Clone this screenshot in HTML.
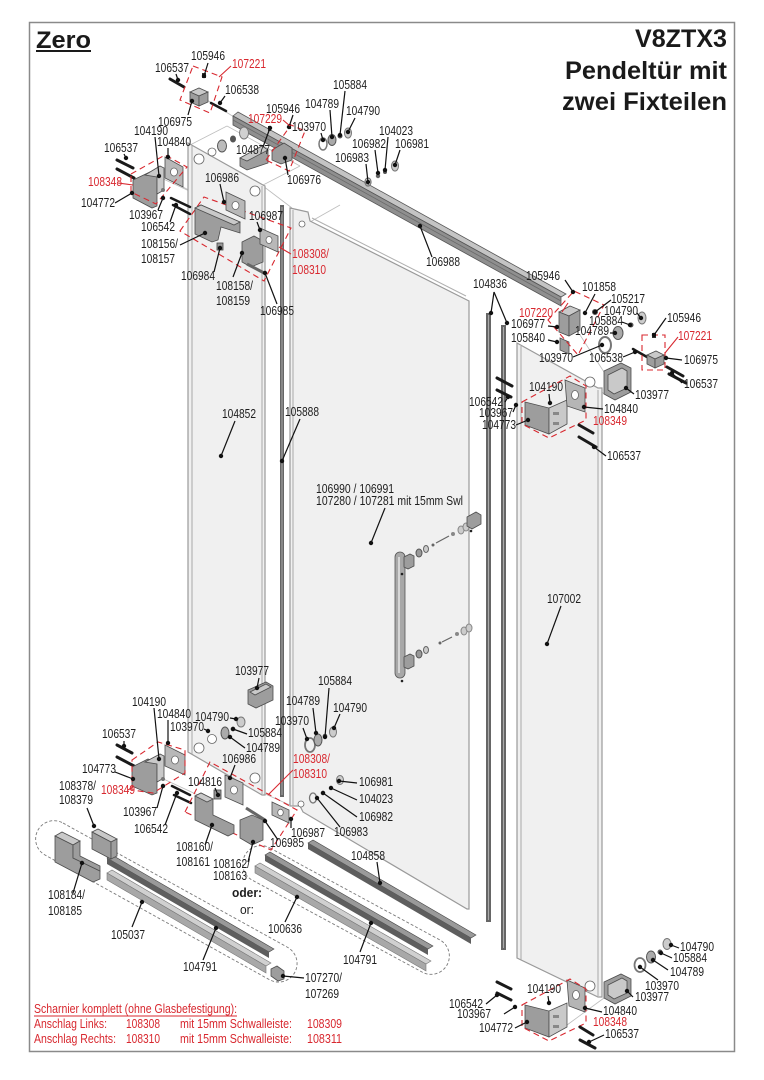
<!DOCTYPE html>
<html><head><meta charset="utf-8">
<style>
html,body{margin:0;padding:0;background:#fff;}
svg{display:block}
.t{font-family:"Liberation Sans",Arial,sans-serif;font-size:12.5px;fill:#1e1e1e}
.r{fill:#d8282f}
.L{stroke:#111;stroke-width:1.2;fill:none}
.R{stroke:#d8282f;stroke-width:1.1;fill:none}
.D{stroke:#d8282f;stroke-width:1.1;fill:none;stroke-dasharray:6 4}
.p{fill:#9d9d9d;stroke:#4d4d4d;stroke-width:.8}
.q{fill:#c9c9c9;stroke:#4d4d4d;stroke-width:.8}
.g{fill:#f0f0f0;stroke:#9a9a9a;stroke-width:1.2}
.s{stroke:#1a1a1a;stroke-width:3;stroke-linecap:round}
.c{stroke:#bdbdbd;stroke-width:.8;fill:none}
.k{stroke:#7a7a7a;stroke-width:.9;fill:none;stroke-dasharray:3 2}
.h{fill:#fff;stroke:#666;stroke-width:.8}
</style></head><body>
<svg width="764" height="1080" viewBox="0 0 764 1080" xmlns="http://www.w3.org/2000/svg">
<rect x="0" y="0" width="764" height="1080" fill="#fff"/>
<rect x="29.5" y="22.5" width="705" height="1029" fill="none" stroke="#8a8a8a" stroke-width="1.5"/>

<!-- construction lines -->
<g class="c">
<line x1="207" y1="100" x2="234" y2="117"/><line x1="190" y1="145" x2="227" y2="126"/><line x1="227" y1="126" x2="300" y2="166"/>
<line x1="263" y1="185" x2="300" y2="166"/><line x1="157" y1="176" x2="200" y2="196"/><line x1="183" y1="187" x2="230" y2="212"/>
<line x1="263" y1="186" x2="292" y2="208"/><line x1="157" y1="776" x2="200" y2="796"/><line x1="263" y1="793" x2="292" y2="806"/>
<line x1="580" y1="335" x2="604" y2="372"/><line x1="598" y1="388" x2="604" y2="394"/><line x1="567" y1="1025" x2="604" y2="998"/>
<line x1="310" y1="222" x2="340" y2="205"/>
</g>

<!-- panels -->
<polygon class="g" points="188,143 263,185 265,186 265,795 262,795 188,752"/>
<line x1="192" y1="146" x2="192" y2="754" stroke="#a8a8a8"/>
<line x1="262" y1="186" x2="262" y2="794" stroke="#a8a8a8"/>
<polygon class="g" points="290,208 308,212 310,221 467,300 469,301 469,909 467,909 303,812 300,806 290,806"/>
<line x1="293" y1="210" x2="293" y2="806" stroke="#a8a8a8"/>
<line x1="312" y1="218" x2="466" y2="296" stroke="#b0b0b0"/>
<circle cx="302" cy="224" r="3" class="h"/>
<circle cx="301" cy="804" r="3" class="h"/>
<polygon class="g" points="517,343 598,388 602,388 602,997 598,997 517,958"/>
<line x1="521" y1="346" x2="521" y2="960" stroke="#a8a8a8"/>
<line x1="598" y1="390" x2="598" y2="996" stroke="#a8a8a8"/>

<!-- holes on left panel -->
<circle cx="199" cy="159" r="5" class="h"/><circle cx="212" cy="152" r="4" class="h"/><circle cx="255" cy="191" r="5" class="h"/>
<circle cx="199" cy="748" r="5" class="h"/><circle cx="212" cy="739" r="4.5" class="h"/><circle cx="255" cy="778" r="5" class="h"/>
<circle cx="590" cy="382" r="5" class="h"/><circle cx="590" cy="986" r="5" class="h"/>

<!-- vertical bars -->
<rect x="280" y="205" width="4" height="592" fill="#666"/><line x1="282" y1="207" x2="282" y2="795" stroke="#aaa"/>
<rect x="486" y="313" width="5" height="609" fill="#666"/><line x1="488.5" y1="315" x2="488.5" y2="920" stroke="#aaa"/>
<rect x="501" y="325" width="5" height="625" fill="#666"/><line x1="503.5" y1="327" x2="503.5" y2="948" stroke="#aaa"/>

<!-- top rail -->
<polygon points="233,116 238,112 566,294 561,297" fill="#c4c4c4" stroke="#555" stroke-width=".8"/>
<polygon points="233,116 561,297 561,306 233,125" fill="#8f8f8f" stroke="#555" stroke-width=".8"/>
<line x1="233" y1="120" x2="561" y2="301" stroke="#6a6a6a" stroke-width=".8"/>

<!-- bottom rails -->
<polygon points="308,843 313,840 476,935 471,938" fill="#9a9a9a" stroke="#444" stroke-width=".6"/>
<polygon points="308,843 471,938 471,944 308,849" fill="#5e5e5e"/>
<polygon points="265,855 270,852 433,946 428,949" fill="#999" stroke="#444" stroke-width=".6"/>
<polygon points="265,855 428,949 428,955 265,861" fill="#5e5e5e"/>
<polygon points="255,866 260,863 431,961 426,964" fill="#d0d0d0" stroke="#777" stroke-width=".6"/>
<polygon points="255,866 426,964 426,971 255,873" fill="#a8a8a8" stroke="#777" stroke-width=".6"/>
<polygon points="107,858 112,855 274,949 269,952" fill="#999" stroke="#444" stroke-width=".6"/>
<polygon points="107,858 269,952 269,958 107,864" fill="#5e5e5e"/>
<polygon points="107,873 112,870 271,963 266,966" fill="#d0d0d0" stroke="#777" stroke-width=".6"/>
<polygon points="107,873 266,966 266,973 107,880" fill="#a8a8a8" stroke="#777" stroke-width=".6"/>
<path class="k" d="M270,848 L440,940 A18,18 0 0 1 422,972 L252,880 A18,18 0 0 1 270,848 Z"/>
<path class="k" d="M63,823 L287,947 A18,18 0 0 1 270,980 L45,855 A18,18 0 0 1 63,823 Z"/>

<!-- left group blocks -->
<polygon class="q" points="55,836 62,832 80,841 73,845"/>
<polygon class="p" points="55,836 73,845 73,858 100,871 100,879 93,882 55,862"/>
<polygon class="p" points="73,845 80,841 80,856 100,866 100,871 73,858" fill="#b3b3b3"/>
<polygon class="q" points="92,832 98,829 117,839 111,842"/>
<polygon class="p" points="92,832 111,842 111,859 92,849"/>
<polygon class="p" points="111,842 117,839 117,856 111,859" fill="#b5b5b5"/>
<polygon class="p" points="271,969 277,966 284,971 284,979 278,981 271,976"/>

<!-- top-left rail end -->
<line class="s" x1="170" y1="79" x2="184" y2="87"/>
<rect x="202" y="73" width="4" height="5" fill="#333"/>
<polygon class="q" points="190,92 199,88 208,92 199,96"/>
<polygon class="p" points="190,92 199,96 199,106 190,102"/>
<polygon class="p" points="199,96 208,92 208,102 199,106" fill="#b0b0b0"/>
<line class="s" x1="211" y1="103" x2="226" y2="111" style="stroke-width:2.5"/>
<polygon class="D" points="193,66 222,77 210,113 180,100"/>
<ellipse cx="222" cy="146" rx="4.5" ry="6" fill="#bbb" stroke="#555"/>
<ellipse cx="233" cy="139" rx="3" ry="3.5" fill="#555"/>
<ellipse cx="244" cy="133" rx="4.5" ry="6" fill="#d0d0d0" stroke="#777"/>
<polygon class="p" points="240,158 262,146 268,150 268,163 247,170 240,166"/>
<polygon class="q" points="240,158 262,146 268,150 247,161"/>
<polygon class="p" points="272,150 284,143 292,148 292,160 281,164 272,160"/>
<rect x="268" y="126" width="3" height="5" fill="#333"/><rect x="288" y="124" width="3" height="5" fill="#333"/>
<polygon class="D" points="266,160 291,125 305,131 289,171"/>
<ellipse cx="323" cy="144" rx="4" ry="6" fill="none" stroke="#777" stroke-width="1.5"/>
<ellipse cx="332" cy="140" rx="4" ry="5.5" fill="#aaa" stroke="#555"/>
<circle cx="340" cy="136" r="2.5" fill="#555"/>
<ellipse cx="348" cy="133" rx="3.5" ry="5" fill="#ccc" stroke="#777"/>
<ellipse cx="368" cy="182" rx="3" ry="4" fill="none" stroke="#777" stroke-width="1.3"/>
<circle cx="378" cy="176" r="2.2" fill="#666"/>
<circle cx="385" cy="172" r="2" fill="#555"/>
<ellipse cx="395" cy="166" rx="3.5" ry="5" fill="#ccc" stroke="#777"/>

<!-- top-left hinge group -->
<line class="s" x1="117" y1="160" x2="133" y2="168"/>
<line class="s" x1="117" y1="169" x2="134" y2="178"/>
<polygon class="p" points="133,180 150,172 157,176 157,206 152,208 133,198"/>
<polygon class="q" points="145,175 160,166 164,168 164,190 157,194 157,177"/>
<polygon points="165,157 183,167 183,187 165,178" fill="#b8b8b8" stroke="#4d4d4d" stroke-width=".8"/>
<ellipse cx="174" cy="172" rx="3.5" ry="4" class="h"/>
<circle cx="163" cy="190" r="2" fill="#777"/><circle cx="163" cy="198" r="2" fill="#777"/>
<line class="s" x1="171" y1="198" x2="190" y2="207" style="stroke-width:2.5"/>
<line class="s" x1="173" y1="205" x2="190" y2="214" style="stroke-width:2.5"/>
<polygon class="D" points="131,174 165,155 187,167 156,204 131,192"/>
<polygon class="D" points="180,231 204,197 291,228 264,281"/>
<polygon points="226,192 245,201 245,219 226,210" fill="#b8b8b8" stroke="#4d4d4d" stroke-width=".8"/>
<ellipse cx="235.5" cy="205.5" rx="3.5" ry="4" class="h"/>
<polygon class="p" points="195,208 201,205 240,222 240,233 221,227 218,240 212,242 195,234"/>
<polygon class="q" points="195,208 201,205 240,222 234,225"/>
<rect x="217" y="243" width="6" height="7" fill="#999" stroke="#444" stroke-width=".8"/>
<polygon class="p" points="242,242 254,236 263,241 263,262 251,267 242,262"/>
<polygon points="260,228 278,236 278,252 260,244" fill="#b8b8b8" stroke="#4d4d4d" stroke-width=".8"/>
<ellipse cx="269" cy="240" rx="3" ry="3.5" class="h"/>
<line x1="247" y1="264" x2="266" y2="274" stroke="#666" stroke-width="3"/>

<!-- right top group -->
<polygon class="q" points="559,312 570,306 580,310 569,316"/>
<polygon class="p" points="559,312 569,316 569,336 559,332"/>
<polygon class="p" points="569,316 580,310 580,330 569,336" fill="#b0b0b0"/>
<polygon class="p" points="560,338 569,342 569,354 560,350"/>
<polygon class="D" points="548,320 574,291 604,305 578,355"/>
<circle cx="595" cy="312" r="2.5" fill="#999" stroke="#555"/>
<ellipse cx="642" cy="318" rx="4" ry="6" fill="#ccc" stroke="#777"/>
<circle cx="631" cy="325" r="2.5" fill="#555"/>
<ellipse cx="618" cy="333" rx="5" ry="6.5" fill="#aaa" stroke="#555"/>
<ellipse cx="605" cy="345" rx="6" ry="8" fill="none" stroke="#777" stroke-width="2"/>
<line class="s" x1="633" y1="349" x2="647" y2="357" style="stroke-width:2.5"/>
<polygon class="q" points="647,355 656,351 664,355 655,359"/>
<polygon class="p" points="647,355 655,359 655,368 647,364"/>
<polygon class="p" points="655,359 664,355 664,364 655,368" fill="#b5b5b5"/>
<rect x="652" y="333" width="4" height="5" fill="#333"/>
<rect class="D" x="642" y="335" width="23" height="35"/>
<line class="s" x1="667" y1="367" x2="683" y2="376"/>
<line class="s" x1="669" y1="374" x2="686" y2="383"/>
<polygon class="p" points="604,371 621,363 631,368 631,392 615,400 604,394"/>
<polygon class="q" points="608,375 622,368 627,371 627,388 614,394 608,390"/>

<!-- right hinge -->
<line class="s" x1="497" y1="378" x2="512" y2="386"/>
<line class="s" x1="497" y1="390" x2="511" y2="397"/>
<circle cx="516" cy="405" r="2" fill="#777"/>
<polygon class="p" points="525,402 549,408 549,434 525,425"/>
<polygon class="q" points="549,408 567,400 567,424 549,434"/>
<rect x="553" y="412" width="6" height="3" fill="#888"/><rect x="553" y="422" width="6" height="3" fill="#888"/>
<polygon points="565,380 585,388 585,412 567,406" fill="#b5b5b5" stroke="#4d4d4d" stroke-width=".8"/>
<ellipse cx="575" cy="395" rx="3.5" ry="4.5" class="h"/>
<polygon class="D" points="522,402 570,376 586,386 586,420 549,438 522,424"/>
<line class="s" x1="579" y1="425" x2="593" y2="433"/>
<line class="s" x1="579" y1="437" x2="596" y2="447"/>

<!-- bottom right hinge -->
<line class="s" x1="497" y1="982" x2="511" y2="989"/>
<line class="s" x1="497" y1="993" x2="511" y2="1000"/>
<circle cx="515" cy="1007" r="2" fill="#777"/>
<polygon class="p" points="525,1005 549,1011 549,1037 525,1028"/>
<polygon class="q" points="549,1011 567,1003 567,1027 549,1037"/>
<rect x="553" y="1015" width="6" height="3" fill="#888"/><rect x="553" y="1025" width="6" height="3" fill="#888"/>
<polygon points="567,980 585,988 585,1012 569,1006" fill="#b5b5b5" stroke="#4d4d4d" stroke-width=".8"/>
<ellipse cx="576" cy="995" rx="3.5" ry="4.5" class="h"/>
<polygon class="D" points="522,1005 570,979 586,989 586,1023 549,1041 522,1027"/>
<line class="s" x1="580" y1="1027" x2="593" y2="1035"/>
<line class="s" x1="580" y1="1040" x2="595" y2="1048"/>
<polygon class="p" points="604,982 621,974 631,979 631,996 615,1004 604,998"/>
<polygon class="q" points="608,985 622,978 627,981 627,993 614,999 608,995"/>
<ellipse cx="640" cy="965" rx="5.5" ry="7" fill="none" stroke="#777" stroke-width="1.8"/>
<ellipse cx="651" cy="957" rx="4.5" ry="6" fill="#aaa" stroke="#555"/>
<circle cx="660" cy="952" r="2.5" fill="#555"/>
<ellipse cx="667" cy="944" rx="4" ry="5.5" fill="#ccc" stroke="#777"/>

<!-- bottom-left parts -->
<polygon class="p" points="248,690 266,682 273,686 273,700 256,708 248,704"/>
<polygon class="q" points="250,692 266,684 271,687 255,695"/>
<ellipse cx="225" cy="733" rx="4" ry="6" fill="#aaa" stroke="#555"/>
<circle cx="233" cy="729" r="2.3" fill="#555"/>
<ellipse cx="241" cy="722" rx="4" ry="5" fill="#ccc" stroke="#777"/>
<ellipse cx="310" cy="745" rx="5" ry="7" fill="none" stroke="#777" stroke-width="1.8"/>
<ellipse cx="318" cy="740" rx="4" ry="6" fill="#aaa" stroke="#555"/>
<circle cx="325" cy="736" r="2.3" fill="#555"/>
<ellipse cx="333" cy="732" rx="3.5" ry="5" fill="#ccc" stroke="#777"/>
<ellipse cx="340" cy="780" rx="3.5" ry="4.5" fill="#ccc" stroke="#777"/>
<circle cx="331" cy="788" r="2" fill="#555"/>
<circle cx="323" cy="793" r="2.3" fill="#999"/>
<ellipse cx="313" cy="798" rx="3.5" ry="5" fill="none" stroke="#777" stroke-width="1.3"/>
<line class="s" x1="117" y1="745" x2="132" y2="753"/>
<line class="s" x1="117" y1="757" x2="134" y2="766"/>
<polygon class="p" points="132,767 148,759 157,763 157,793 152,795 132,786"/>
<polygon class="q" points="145,762 160,754 164,756 164,778 157,782 157,764"/>
<polygon points="165,745 185,755 185,775 165,766" fill="#b8b8b8" stroke="#4d4d4d" stroke-width=".8"/>
<ellipse cx="175" cy="760" rx="3.5" ry="4" class="h"/>
<circle cx="163" cy="779" r="2" fill="#777"/><circle cx="163" cy="786" r="2" fill="#777"/>
<line class="s" x1="172" y1="786" x2="190" y2="795" style="stroke-width:2.5"/>
<line class="s" x1="174" y1="795" x2="191" y2="803" style="stroke-width:2.5"/>
<polygon class="D" points="132,760 158,742 185,750 185,773 153,793 132,790"/>
<polygon class="D" points="185,812 210,762 297,810 271,850"/>
<polygon class="p" points="195,796 201,793 213,799 213,815 234,825 234,833 228,836 195,820"/>
<polygon class="q" points="195,796 201,793 213,799 207,802"/>
<rect x="214" y="790" width="7" height="9" fill="#999" stroke="#444" stroke-width=".8"/>
<polygon points="225,775 243,783 243,805 225,797" fill="#b8b8b8" stroke="#4d4d4d" stroke-width=".8"/>
<ellipse cx="234" cy="790" rx="3.5" ry="4" class="h"/>
<polygon class="p" points="240,820 252,815 263,820 263,840 252,845 240,838"/>
<line x1="246" y1="808" x2="265" y2="820" stroke="#666" stroke-width="3"/>
<polygon points="272,802 289,810 289,823 272,815" fill="#b8b8b8" stroke="#4d4d4d" stroke-width=".8"/>
<ellipse cx="280.5" cy="812.5" rx="2.8" ry="3.3" class="h"/>

<!-- handle -->
<rect x="395" y="552" width="10" height="126" rx="5" fill="#a8a8a8" stroke="#555" stroke-width=".8"/>
<line x1="399" y1="557" x2="399" y2="673" stroke="#d6d6d6" stroke-width="2"/>
<polygon class="p" points="404,557 410,554 414,556 414,566 408,569 404,567"/>
<polygon class="p" points="404,657 410,654 414,656 414,666 408,669 404,667"/>
<ellipse cx="419" cy="553" rx="3" ry="4" fill="#999" stroke="#555"/>
<ellipse cx="426" cy="549" rx="2.5" ry="3.5" fill="#ccc" stroke="#666"/>
<circle cx="433" cy="545" r="1.5" fill="#666"/>
<line x1="436" y1="543" x2="449" y2="536" stroke="#666" stroke-width="1.2"/>
<circle cx="453" cy="534" r="2" fill="#888"/>
<ellipse cx="461" cy="530" rx="3" ry="4" fill="#ccc" stroke="#888"/>
<ellipse cx="466" cy="527" rx="3" ry="4" fill="#ccc" stroke="#888"/>
<polygon class="p" points="467,517 476,512 481,515 481,524 472,529 467,526"/>
<ellipse cx="419" cy="654" rx="3" ry="4" fill="#999" stroke="#555"/>
<ellipse cx="426" cy="650" rx="2.5" ry="3.5" fill="#ccc" stroke="#666"/>
<circle cx="440" cy="643" r="1.5" fill="#666"/>
<line x1="442" y1="642" x2="452" y2="637" stroke="#666" stroke-width="1.2"/>
<circle cx="457" cy="634" r="2" fill="#888"/>
<ellipse cx="464" cy="631" rx="3" ry="4" fill="#ccc" stroke="#888"/>
<ellipse cx="469" cy="628" rx="3" ry="4" fill="#ccc" stroke="#888"/>
<circle cx="402" cy="574" r="1.3" fill="#222"/><circle cx="402" cy="681" r="1.3" fill="#222"/><circle cx="471" cy="531" r="1.3" fill="#222"/>

<!-- leaders -->
<g class="L">
<line x1="208" y1="63" x2="204" y2="76"/><line x1="176" y1="74" x2="178" y2="80"/><line x1="225" y1="96" x2="220" y2="103"/>
<line x1="188" y1="115" x2="192" y2="101"/><line x1="155" y1="137" x2="159" y2="176"/><line x1="168" y1="148" x2="168" y2="157"/>
<line x1="293" y1="115" x2="289" y2="127"/><line x1="330" y1="110" x2="332" y2="137"/><line x1="345" y1="91" x2="340" y2="135"/>
<line x1="355" y1="118" x2="348" y2="132"/><line x1="321" y1="133" x2="323" y2="140"/><line x1="263" y1="147" x2="270" y2="128"/>
<line x1="288" y1="175" x2="285" y2="158"/><line x1="375" y1="150" x2="378" y2="173"/><line x1="366" y1="164" x2="368" y2="182"/>
<line x1="388" y1="137" x2="385" y2="170"/><line x1="400" y1="150" x2="395" y2="165"/><line x1="124" y1="154" x2="126" y2="158"/>
<line x1="115" y1="203" x2="132" y2="193"/><line x1="158" y1="210" x2="163" y2="198"/><line x1="170" y1="222" x2="176" y2="205"/>
<line x1="220" y1="184" x2="224" y2="202"/><line x1="257" y1="222" x2="260" y2="230"/><line x1="180" y1="245" x2="205" y2="233"/>
<line x1="214" y1="272" x2="220" y2="248"/><line x1="233" y1="277" x2="242" y2="253"/><line x1="277" y1="304" x2="265" y2="273"/>
<line x1="432" y1="257" x2="420" y2="226"/><line x1="565" y1="280" x2="573" y2="292"/><line x1="494" y1="292" x2="491" y2="313"/>
<line x1="494" y1="292" x2="507" y2="323"/><line x1="595" y1="294" x2="585" y2="313"/><line x1="611" y1="300" x2="595" y2="312"/>
<line x1="637" y1="313" x2="641" y2="318"/><line x1="548" y1="326" x2="557" y2="327"/><line x1="622" y1="322" x2="630" y2="325"/>
<line x1="610" y1="333" x2="615" y2="333"/><line x1="666" y1="318" x2="654" y2="335"/><line x1="548" y1="340" x2="557" y2="342"/>
<line x1="573" y1="357" x2="602" y2="345"/><line x1="623" y1="357" x2="635" y2="352"/><line x1="682" y1="360" x2="666" y2="358"/>
<line x1="682" y1="383" x2="672" y2="373"/><line x1="634" y1="394" x2="626" y2="388"/><line x1="549" y1="394" x2="550" y2="403"/>
<line x1="505" y1="402" x2="508" y2="397"/><line x1="513" y1="412" x2="516" y2="405"/><line x1="603" y1="409" x2="584" y2="407"/>
<line x1="516" y1="425" x2="528" y2="420"/><line x1="606" y1="456" x2="594" y2="447"/><line x1="235" y1="421" x2="221" y2="456"/>
<line x1="300" y1="419" x2="282" y2="461"/><line x1="385" y1="508" x2="371" y2="543"/><line x1="561" y1="606" x2="547" y2="644"/>
<line x1="259" y1="678" x2="257" y2="688"/><line x1="329" y1="688" x2="325" y2="737"/><line x1="313" y1="708" x2="316" y2="733"/>
<line x1="340" y1="714" x2="334" y2="728"/><line x1="303" y1="728" x2="307" y2="739"/><line x1="154" y1="708" x2="159" y2="759"/>
<line x1="168" y1="720" x2="168" y2="743"/><line x1="230" y1="718" x2="236" y2="719"/><line x1="204" y1="729" x2="208" y2="731"/>
<line x1="247" y1="734" x2="233" y2="729"/><line x1="245" y1="748" x2="230" y2="737"/><line x1="124" y1="741" x2="124" y2="746"/>
<line x1="235" y1="765" x2="230" y2="778"/><line x1="115" y1="772" x2="133" y2="779"/><line x1="87" y1="808" x2="94" y2="826"/>
<line x1="215" y1="788" x2="218" y2="795"/><line x1="357" y1="783" x2="339" y2="781"/><line x1="357" y1="800" x2="331" y2="788"/>
<line x1="357" y1="817" x2="323" y2="793"/><line x1="340" y1="827" x2="317" y2="798"/><line x1="157" y1="808" x2="163" y2="786"/>
<line x1="165" y1="825" x2="177" y2="793"/><line x1="291" y1="828" x2="291" y2="819"/><line x1="278" y1="840" x2="265" y2="821"/>
<line x1="205" y1="845" x2="212" y2="825"/><line x1="248" y1="862" x2="253" y2="842"/><line x1="377" y1="862" x2="380" y2="883"/>
<line x1="73" y1="893" x2="82" y2="863"/><line x1="285" y1="922" x2="297" y2="897"/><line x1="132" y1="927" x2="142" y2="902"/>
<line x1="203" y1="960" x2="216" y2="928"/><line x1="360" y1="952" x2="371" y2="923"/><line x1="304" y1="978" x2="283" y2="976"/>
<line x1="679" y1="948" x2="671" y2="945"/><line x1="672" y1="958" x2="661" y2="953"/><line x1="668" y1="970" x2="653" y2="960"/>
<line x1="658" y1="980" x2="640" y2="967"/><line x1="633" y1="997" x2="627" y2="991"/><line x1="548" y1="996" x2="549" y2="1003"/>
<line x1="486" y1="1004" x2="497" y2="995"/><line x1="504" y1="1014" x2="515" y2="1007"/><line x1="602" y1="1012" x2="585" y2="1008"/>
<line x1="515" y1="1028" x2="527" y2="1022"/><line x1="604" y1="1035" x2="589" y2="1042"/>
</g>
<g fill="#111">
<circle cx="204" cy="76" r="2.2"/><circle cx="178" cy="80" r="2.2"/><circle cx="220" cy="103" r="2.2"/><circle cx="192" cy="101" r="2.2"/>
<circle cx="159" cy="176" r="2.2"/><circle cx="168" cy="157" r="2.2"/><circle cx="289" cy="127" r="2.2"/><circle cx="332" cy="137" r="2.2"/>
<circle cx="340" cy="135" r="2.2"/><circle cx="348" cy="132" r="2.2"/><circle cx="323" cy="140" r="2.2"/><circle cx="270" cy="128" r="2.2"/>
<circle cx="285" cy="158" r="2.2"/><circle cx="378" cy="173" r="2.2"/><circle cx="368" cy="182" r="2.2"/><circle cx="385" cy="170" r="2.2"/>
<circle cx="395" cy="165" r="2.2"/><circle cx="126" cy="158" r="2.2"/><circle cx="132" cy="193" r="2.2"/><circle cx="163" cy="198" r="2.2"/>
<circle cx="176" cy="205" r="2.2"/><circle cx="224" cy="202" r="2.2"/><circle cx="260" cy="230" r="2.2"/><circle cx="205" cy="233" r="2.2"/>
<circle cx="220" cy="248" r="2.2"/><circle cx="242" cy="253" r="2.2"/><circle cx="265" cy="273" r="2.2"/><circle cx="420" cy="226" r="2.2"/>
<circle cx="573" cy="292" r="2.2"/><circle cx="491" cy="313" r="2.2"/><circle cx="507" cy="323" r="2.2"/><circle cx="585" cy="313" r="2.2"/>
<circle cx="595" cy="312" r="2.2"/><circle cx="641" cy="318" r="2.2"/><circle cx="557" cy="327" r="2.2"/><circle cx="630" cy="325" r="2.2"/>
<circle cx="615" cy="333" r="2.2"/><circle cx="654" cy="335" r="2.2"/><circle cx="557" cy="342" r="2.2"/><circle cx="602" cy="345" r="2.2"/>
<circle cx="635" cy="352" r="2.2"/><circle cx="666" cy="358" r="2.2"/><circle cx="672" cy="373" r="2.2"/><circle cx="626" cy="388" r="2.2"/>
<circle cx="550" cy="403" r="2.2"/><circle cx="508" cy="397" r="2.2"/><circle cx="516" cy="405" r="2.2"/><circle cx="584" cy="407" r="2.2"/>
<circle cx="528" cy="420" r="2.2"/><circle cx="594" cy="447" r="2.2"/><circle cx="221" cy="456" r="2.2"/><circle cx="282" cy="461" r="2.2"/>
<circle cx="371" cy="543" r="2.2"/><circle cx="547" cy="644" r="2.2"/><circle cx="257" cy="688" r="2.2"/><circle cx="325" cy="737" r="2.2"/>
<circle cx="316" cy="733" r="2.2"/><circle cx="334" cy="728" r="2.2"/><circle cx="307" cy="739" r="2.2"/><circle cx="159" cy="759" r="2.2"/>
<circle cx="168" cy="743" r="2.2"/><circle cx="236" cy="719" r="2.2"/><circle cx="208" cy="731" r="2.2"/><circle cx="233" cy="729" r="2.2"/>
<circle cx="230" cy="737" r="2.2"/><circle cx="124" cy="746" r="2.2"/><circle cx="230" cy="778" r="2.2"/><circle cx="133" cy="779" r="2.2"/>
<circle cx="94" cy="826" r="2.2"/><circle cx="218" cy="795" r="2.2"/><circle cx="339" cy="781" r="2.2"/><circle cx="331" cy="788" r="2.2"/>
<circle cx="323" cy="793" r="2.2"/><circle cx="317" cy="798" r="2.2"/><circle cx="163" cy="786" r="2.2"/><circle cx="177" cy="793" r="2.2"/>
<circle cx="291" cy="819" r="2.2"/><circle cx="265" cy="821" r="2.2"/><circle cx="212" cy="825" r="2.2"/><circle cx="253" cy="842" r="2.2"/>
<circle cx="380" cy="883" r="2.2"/><circle cx="82" cy="863" r="2.2"/><circle cx="297" cy="897" r="2.2"/><circle cx="142" cy="902" r="2.2"/>
<circle cx="216" cy="928" r="2.2"/><circle cx="371" cy="923" r="2.2"/><circle cx="283" cy="976" r="2.2"/><circle cx="671" cy="945" r="2.2"/>
<circle cx="661" cy="953" r="2.2"/><circle cx="653" cy="960" r="2.2"/><circle cx="640" cy="967" r="2.2"/><circle cx="627" cy="991" r="2.2"/>
<circle cx="549" cy="1003" r="2.2"/><circle cx="497" cy="995" r="2.2"/><circle cx="515" cy="1007" r="2.2"/><circle cx="585" cy="1008" r="2.2"/>
<circle cx="527" cy="1022" r="2.2"/><circle cx="589" cy="1042" r="2.2"/>
</g>
<g class="R">
<line x1="231" y1="66" x2="219" y2="77"/><line x1="118" y1="183" x2="133" y2="185"/><line x1="291" y1="254" x2="279" y2="247"/>
<line x1="562" y1="312" x2="568" y2="303"/><line x1="678" y1="337" x2="665" y2="353"/><line x1="128" y1="790" x2="133" y2="787"/>
<line x1="293" y1="770" x2="268" y2="795"/><line x1="283" y1="120" x2="290" y2="126"/>
</g>

<!-- titles -->
<text x="36" y="48" style="font-family:'Liberation Sans',Arial,sans-serif;font-weight:bold;font-size:24px" fill="#1a1a1a" textLength="55" lengthAdjust="spacingAndGlyphs">Zero</text>
<line x1="36" y1="51" x2="91" y2="51" stroke="#1a1a1a" stroke-width="2"/>
<g style="font-family:'Liberation Sans',Arial,sans-serif;font-weight:bold;font-size:25px" fill="#1a1a1a" text-anchor="end">
<text x="727" y="47" textLength="92" lengthAdjust="spacingAndGlyphs">V8ZTX3</text>
<text x="727" y="79" textLength="162" lengthAdjust="spacingAndGlyphs">Pendeltür mit</text>
<text x="727" y="110" textLength="165" lengthAdjust="spacingAndGlyphs">zwei Fixteilen</text>
</g>

<!-- labels -->
<g class="t">
<text x="191" y="60" textLength="34" lengthAdjust="spacingAndGlyphs">105946</text>
<text x="155" y="72" textLength="34" lengthAdjust="spacingAndGlyphs">106537</text>
<text x="225" y="94" textLength="34" lengthAdjust="spacingAndGlyphs">106538</text>
<text x="158" y="126" textLength="34" lengthAdjust="spacingAndGlyphs">106975</text>
<text x="134" y="135" textLength="34" lengthAdjust="spacingAndGlyphs">104190</text>
<text x="157" y="146" textLength="34" lengthAdjust="spacingAndGlyphs">104840</text>
<text x="266" y="113" textLength="34" lengthAdjust="spacingAndGlyphs">105946</text>
<text x="305" y="108" textLength="34" lengthAdjust="spacingAndGlyphs">104789</text>
<text x="333" y="89" textLength="34" lengthAdjust="spacingAndGlyphs">105884</text>
<text x="346" y="115" textLength="34" lengthAdjust="spacingAndGlyphs">104790</text>
<text x="292" y="131" textLength="34" lengthAdjust="spacingAndGlyphs">103970</text>
<text x="236" y="154" textLength="34" lengthAdjust="spacingAndGlyphs">104877</text>
<text x="287" y="184" textLength="34" lengthAdjust="spacingAndGlyphs">106976</text>
<text x="352" y="148" textLength="34" lengthAdjust="spacingAndGlyphs">106982</text>
<text x="335" y="162" textLength="34" lengthAdjust="spacingAndGlyphs">106983</text>
<text x="379" y="135" textLength="34" lengthAdjust="spacingAndGlyphs">104023</text>
<text x="395" y="148" textLength="34" lengthAdjust="spacingAndGlyphs">106981</text>
<text x="104" y="152" textLength="34" lengthAdjust="spacingAndGlyphs">106537</text>
<text x="81" y="207" textLength="34" lengthAdjust="spacingAndGlyphs">104772</text>
<text x="129" y="219" textLength="34" lengthAdjust="spacingAndGlyphs">103967</text>
<text x="141" y="231" textLength="34" lengthAdjust="spacingAndGlyphs">106542</text>
<text x="205" y="182" textLength="34" lengthAdjust="spacingAndGlyphs">106986</text>
<text x="249" y="220" textLength="34" lengthAdjust="spacingAndGlyphs">106987</text>
<text x="141" y="248" textLength="37" lengthAdjust="spacingAndGlyphs">108156/</text>
<text x="141" y="263" textLength="34" lengthAdjust="spacingAndGlyphs">108157</text>
<text x="181" y="280" textLength="34" lengthAdjust="spacingAndGlyphs">106984</text>
<text x="216" y="290" textLength="37" lengthAdjust="spacingAndGlyphs">108158/</text>
<text x="216" y="305" textLength="34" lengthAdjust="spacingAndGlyphs">108159</text>
<text x="260" y="315" textLength="34" lengthAdjust="spacingAndGlyphs">106985</text>
<text x="426" y="266" textLength="34" lengthAdjust="spacingAndGlyphs">106988</text>
<text x="526" y="280" textLength="34" lengthAdjust="spacingAndGlyphs">105946</text>
<text x="473" y="288" textLength="34" lengthAdjust="spacingAndGlyphs">104836</text>
<text x="582" y="291" textLength="34" lengthAdjust="spacingAndGlyphs">101858</text>
<text x="611" y="303" textLength="34" lengthAdjust="spacingAndGlyphs">105217</text>
<text x="604" y="315" textLength="34" lengthAdjust="spacingAndGlyphs">104790</text>
<text x="511" y="328" textLength="34" lengthAdjust="spacingAndGlyphs">106977</text>
<text x="589" y="325" textLength="34" lengthAdjust="spacingAndGlyphs">105884</text>
<text x="575" y="335" textLength="34" lengthAdjust="spacingAndGlyphs">104789</text>
<text x="667" y="322" textLength="34" lengthAdjust="spacingAndGlyphs">105946</text>
<text x="511" y="342" textLength="34" lengthAdjust="spacingAndGlyphs">105840</text>
<text x="539" y="362" textLength="34" lengthAdjust="spacingAndGlyphs">103970</text>
<text x="589" y="362" textLength="34" lengthAdjust="spacingAndGlyphs">106538</text>
<text x="684" y="364" textLength="34" lengthAdjust="spacingAndGlyphs">106975</text>
<text x="684" y="388" textLength="34" lengthAdjust="spacingAndGlyphs">106537</text>
<text x="635" y="399" textLength="34" lengthAdjust="spacingAndGlyphs">103977</text>
<text x="529" y="391" textLength="34" lengthAdjust="spacingAndGlyphs">104190</text>
<text x="469" y="406" textLength="34" lengthAdjust="spacingAndGlyphs">106542</text>
<text x="479" y="417" textLength="34" lengthAdjust="spacingAndGlyphs">103967</text>
<text x="604" y="413" textLength="34" lengthAdjust="spacingAndGlyphs">104840</text>
<text x="482" y="429" textLength="34" lengthAdjust="spacingAndGlyphs">104773</text>
<text x="607" y="460" textLength="34" lengthAdjust="spacingAndGlyphs">106537</text>
<text x="222" y="418" textLength="34" lengthAdjust="spacingAndGlyphs">104852</text>
<text x="285" y="416" textLength="34" lengthAdjust="spacingAndGlyphs">105888</text>
<text x="316" y="493" textLength="78" lengthAdjust="spacingAndGlyphs">106990 / 106991</text>
<text x="316" y="505" textLength="147" lengthAdjust="spacingAndGlyphs">107280 / 107281 mit 15mm Swl</text>
<text x="547" y="603" textLength="34" lengthAdjust="spacingAndGlyphs">107002</text>
<text x="235" y="675" textLength="34" lengthAdjust="spacingAndGlyphs">103977</text>
<text x="318" y="685" textLength="34" lengthAdjust="spacingAndGlyphs">105884</text>
<text x="286" y="705" textLength="34" lengthAdjust="spacingAndGlyphs">104789</text>
<text x="333" y="712" textLength="34" lengthAdjust="spacingAndGlyphs">104790</text>
<text x="275" y="725" textLength="34" lengthAdjust="spacingAndGlyphs">103970</text>
<text x="132" y="706" textLength="34" lengthAdjust="spacingAndGlyphs">104190</text>
<text x="157" y="718" textLength="34" lengthAdjust="spacingAndGlyphs">104840</text>
<text x="195" y="721" textLength="34" lengthAdjust="spacingAndGlyphs">104790</text>
<text x="170" y="731" textLength="34" lengthAdjust="spacingAndGlyphs">103970</text>
<text x="248" y="737" textLength="34" lengthAdjust="spacingAndGlyphs">105884</text>
<text x="246" y="752" textLength="34" lengthAdjust="spacingAndGlyphs">104789</text>
<text x="102" y="738" textLength="34" lengthAdjust="spacingAndGlyphs">106537</text>
<text x="222" y="763" textLength="34" lengthAdjust="spacingAndGlyphs">106986</text>
<text x="82" y="773" textLength="34" lengthAdjust="spacingAndGlyphs">104773</text>
<text x="59" y="790" textLength="37" lengthAdjust="spacingAndGlyphs">108378/</text>
<text x="59" y="804" textLength="34" lengthAdjust="spacingAndGlyphs">108379</text>
<text x="188" y="786" textLength="34" lengthAdjust="spacingAndGlyphs">104816</text>
<text x="359" y="786" textLength="34" lengthAdjust="spacingAndGlyphs">106981</text>
<text x="359" y="803" textLength="34" lengthAdjust="spacingAndGlyphs">104023</text>
<text x="359" y="821" textLength="34" lengthAdjust="spacingAndGlyphs">106982</text>
<text x="334" y="836" textLength="34" lengthAdjust="spacingAndGlyphs">106983</text>
<text x="123" y="816" textLength="34" lengthAdjust="spacingAndGlyphs">103967</text>
<text x="134" y="833" textLength="34" lengthAdjust="spacingAndGlyphs">106542</text>
<text x="291" y="837" textLength="34" lengthAdjust="spacingAndGlyphs">106987</text>
<text x="270" y="847" textLength="34" lengthAdjust="spacingAndGlyphs">106985</text>
<text x="176" y="851" textLength="37" lengthAdjust="spacingAndGlyphs">108160/</text>
<text x="176" y="866" textLength="34" lengthAdjust="spacingAndGlyphs">108161</text>
<text x="213" y="868" textLength="37" lengthAdjust="spacingAndGlyphs">108162/</text>
<text x="213" y="880" textLength="34" lengthAdjust="spacingAndGlyphs">108163</text>
<text x="351" y="860" textLength="34" lengthAdjust="spacingAndGlyphs">104858</text>
<text x="48" y="899" textLength="37" lengthAdjust="spacingAndGlyphs">108184/</text>
<text x="48" y="915" textLength="34" lengthAdjust="spacingAndGlyphs">108185</text>
<text x="232" y="897" style="font-weight:bold" textLength="30" lengthAdjust="spacingAndGlyphs">oder:</text>
<text x="240" y="914" textLength="14" lengthAdjust="spacingAndGlyphs">or:</text>
<text x="268" y="933" textLength="34" lengthAdjust="spacingAndGlyphs">100636</text>
<text x="111" y="939" textLength="34" lengthAdjust="spacingAndGlyphs">105037</text>
<text x="183" y="971" textLength="34" lengthAdjust="spacingAndGlyphs">104791</text>
<text x="343" y="964" textLength="34" lengthAdjust="spacingAndGlyphs">104791</text>
<text x="305" y="982" textLength="37" lengthAdjust="spacingAndGlyphs">107270/</text>
<text x="305" y="998" textLength="34" lengthAdjust="spacingAndGlyphs">107269</text>
<text x="680" y="951" textLength="34" lengthAdjust="spacingAndGlyphs">104790</text>
<text x="673" y="962" textLength="34" lengthAdjust="spacingAndGlyphs">105884</text>
<text x="670" y="976" textLength="34" lengthAdjust="spacingAndGlyphs">104789</text>
<text x="645" y="990" textLength="34" lengthAdjust="spacingAndGlyphs">103970</text>
<text x="635" y="1001" textLength="34" lengthAdjust="spacingAndGlyphs">103977</text>
<text x="527" y="993" textLength="34" lengthAdjust="spacingAndGlyphs">104190</text>
<text x="449" y="1008" textLength="34" lengthAdjust="spacingAndGlyphs">106542</text>
<text x="457" y="1018" textLength="34" lengthAdjust="spacingAndGlyphs">103967</text>
<text x="603" y="1015" textLength="34" lengthAdjust="spacingAndGlyphs">104840</text>
<text x="479" y="1032" textLength="34" lengthAdjust="spacingAndGlyphs">104772</text>
<text x="605" y="1038" textLength="34" lengthAdjust="spacingAndGlyphs">106537</text>
</g>
<g class="t r">
<text class="r" x="232" y="68" textLength="34" lengthAdjust="spacingAndGlyphs">107221</text>
<text class="r" x="248" y="123" textLength="34" lengthAdjust="spacingAndGlyphs">107229</text>
<text class="r" x="88" y="186" textLength="34" lengthAdjust="spacingAndGlyphs">108348</text>
<text class="r" x="292" y="258" textLength="37" lengthAdjust="spacingAndGlyphs">108308/</text>
<text class="r" x="292" y="274" textLength="34" lengthAdjust="spacingAndGlyphs">108310</text>
<text class="r" x="519" y="317" textLength="34" lengthAdjust="spacingAndGlyphs">107220</text>
<text class="r" x="678" y="340" textLength="34" lengthAdjust="spacingAndGlyphs">107221</text>
<text class="r" x="593" y="425" textLength="34" lengthAdjust="spacingAndGlyphs">108349</text>
<text class="r" x="101" y="794" textLength="34" lengthAdjust="spacingAndGlyphs">108349</text>
<text class="r" x="293" y="763" textLength="37" lengthAdjust="spacingAndGlyphs">108308/</text>
<text class="r" x="293" y="778" textLength="34" lengthAdjust="spacingAndGlyphs">108310</text>
<text class="r" x="593" y="1026" textLength="34" lengthAdjust="spacingAndGlyphs">108348</text>
<text class="r" x="34" y="1013" textLength="203" lengthAdjust="spacingAndGlyphs">Scharnier komplett (ohne Glasbefestigung):</text>
<text class="r" x="34" y="1028" textLength="73" lengthAdjust="spacingAndGlyphs">Anschlag Links:</text>
<text class="r" x="126" y="1028" textLength="34" lengthAdjust="spacingAndGlyphs">108308</text>
<text class="r" x="180" y="1028" textLength="112" lengthAdjust="spacingAndGlyphs">mit 15mm Schwalleiste:</text>
<text class="r" x="307" y="1028" textLength="35" lengthAdjust="spacingAndGlyphs">108309</text>
<text class="r" x="34" y="1043" textLength="82" lengthAdjust="spacingAndGlyphs">Anschlag Rechts:</text>
<text class="r" x="126" y="1043" textLength="34" lengthAdjust="spacingAndGlyphs">108310</text>
<text class="r" x="180" y="1043" textLength="112" lengthAdjust="spacingAndGlyphs">mit 15mm Schwalleiste:</text>
<text class="r" x="307" y="1043" textLength="35" lengthAdjust="spacingAndGlyphs">108311</text>
</g>
<line x1="34" y1="1016" x2="237" y2="1016" stroke="#d8282f" stroke-width="1"/>
</svg>
</body></html>
